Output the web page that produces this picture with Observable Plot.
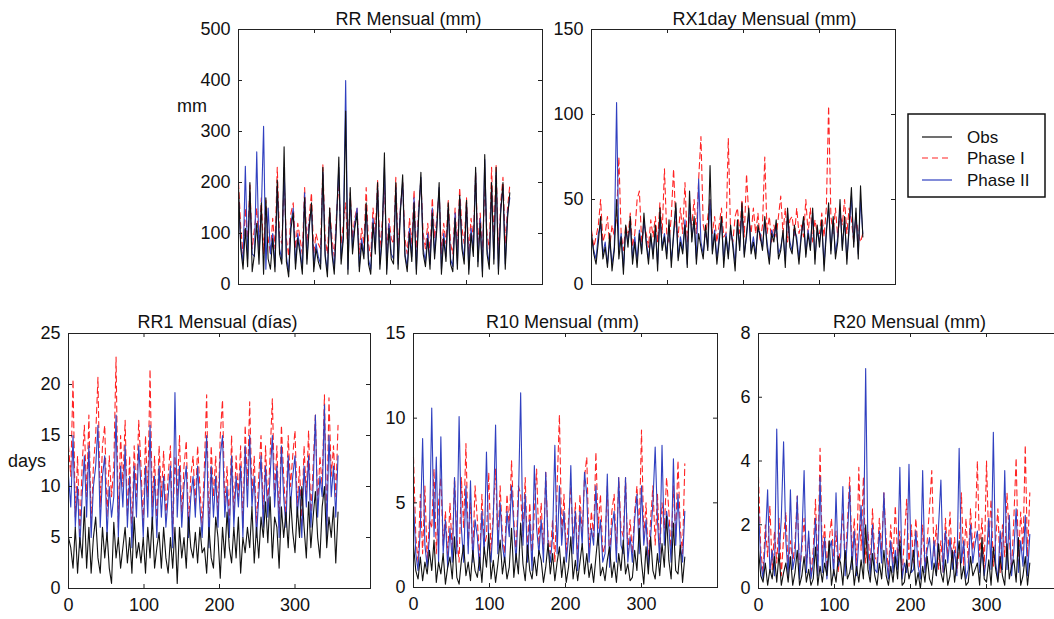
<!DOCTYPE html>
<html><head><meta charset="utf-8">
<script src="https://cdn.jsdelivr.net/npm/d3@7"></script>
<script src="https://cdn.jsdelivr.net/npm/@observablehq/plot@0.6"></script>
<style>
html,body{margin:0;padding:0;background:#fff;overflow:hidden;}
#page{position:relative;width:1054px;height:619px;overflow:hidden;font-family:"Liberation Sans",Arial,Helvetica,sans-serif;color:#111;}
.panel{position:absolute;}
.lab{position:absolute;font-size:18px;line-height:18px;white-space:nowrap;}
</style></head><body><div id="page"></div>
<script>
// month index of each sample (quarterly samples of the 360-month series)
const months = d3.range(0, 360, 3);
const seriesNames = ["Obs", "Phase I", "Phase II"];
const titles = ["RR Mensual (mm)", "RX1day Mensual (mm)", "RR1 Mensual (días)", "R10 Mensual (mm)", "R20 Mensual (mm)"];
const yLabels = ["mm", "days"];
const xTickMarks = [100, 200, 300];
const xTickLabels = [0, 100, 200, 300];
const rrTicks = [0, 100, 200, 300, 400, 500];
const rxTicks = [0, 50, 100, 150];
const rr1Ticks = [0, 5, 10, 15, 20, 25];
const r10Ticks = [0, 5, 10, 15];
const r20Ticks = [0, 2, 4, 6, 8];

// RR Mensual (mm)
const rrObs = [190,70,30,110, 35,200,25,60, 120,40,160,20, 170,50,30,90, 25,205,60,40, 270,45,15,110, 140,30,90,60, 20,170,40,110, 160,25,70,45, 30,230,55,15, 150,60,20,120, 250,40,90,340, 20,190,60,110, 140,25,80,50, 160,40,20,120, 60,200,30,90, 258,20,110,50, 40,200,30,140, 215,55,25,100, 45,160,20,130, 220,60,35,90, 30,140,50,110, 200,20,90,45, 160,40,25,130, 30,175,70,40, 165,20,100,55, 230,35,120,15, 255,60,30,200, 40,230,20,140, 200,30,130,180];
const rrPhase1 = [200,110,60,150, 80,195,70,110, 150,65,170,60, 165,90,60,130, 70,230,95,80, 200,90,55,140, 160,70,120,90, 60,190,80,130, 180,60,100,80, 70,235,90,60, 150,90,55,140, 200,80,120,160, 60,180,90,130, 150,60,110,80, 190,80,55,150, 100,205,70,120, 190,60,130,90, 80,210,70,150, 200,90,60,130, 80,185,60,150, 205,100,70,120, 60,170,90,130, 185,60,120,80, 165,80,60,150, 70,190,110,80, 170,60,130,90, 220,80,140,60, 190,100,70,230, 90,235,60,160, 210,80,150,195];
const rrPhase2 = [170,80,40,232, 50,180,60,55, 260,60,140,310, 30,150,60,100, 35,190,70,50, 230,55,25,120, 150,40,100,70, 30,180,50,120, 150,35,80,55, 40,220,60,25, 140,70,30,130, 230,50,100,400, 30,170,70,120, 150,35,90,60, 150,50,30,130, 70,190,40,100, 230,30,120,60, 50,190,40,150, 200,60,35,110, 55,170,30,140, 210,70,45,100, 40,150,60,120, 190,30,100,55, 150,50,35,140, 40,170,80,50, 160,30,110,65, 220,45,130,25, 245,70,40,190, 50,220,30,150, 190,40,140,170];

// RX1day Mensual (mm)
const rxObs = [30,18,12,25, 40,15,22,10, 30,8,20,50, 15,28,6,35, 22,40,12,25, 10,30,18,42, 24,12,30,15, 35,8,45,20, 28,15,38,10, 30,48,14,25, 18,35,10,55, 25,40,12,30, 22,15,35,20, 70,18,30,12, 25,40,10,28, 15,35,22,8, 38,20,48,16, 30,45,18,25, 15,35,28,20, 40,22,12,30, 25,38,15,20, 32,10,45,22, 18,35,25,12, 28,40,16,30, 20,45,12,35, 22,38,8,30, 48,18,40,15, 25,50,20,40, 12,35,57,22, 45,15,58,28];
const rxPhase1 = [32,22,28,35, 50,25,30,40, 22,35,28,40, 75,30,20,35, 28,42,22,30, 50,55,25,35, 30,22,38,28, 40,25,48,30, 68,30,25,40, 68,35,28,45, 30,60,25,40, 35,50,30,62, 87,35,28,40, 50,30,40,25, 35,45,28,30, 86,30,25,40, 45,30,50,28, 65,40,30,45, 30,42,25,35, 75,30,40,25, 35,28,40,52, 30,45,25,38, 40,28,45,30, 35,28,50,30, 45,25,38,30, 30,42,28,45, 105,40,30,45, 28,42,35,50, 30,45,38,25, 40,30,25,30];
const rxPhase2 = [28,20,15,30, 35,18,25,12, 25,12,22,107, 20,30,10,32, 25,35,15,28, 14,32,20,38, 26,15,28,18, 32,12,40,22, 30,18,35,14, 28,45,16,28, 20,38,12,48, 28,36,15,62, 25,18,32,22, 50,20,32,15, 28,38,14,30, 18,32,25,12, 35,22,45,18, 28,42,20,28, 18,32,30,22, 38,25,15,32, 28,35,18,22, 30,14,42,25, 20,32,28,15, 30,38,18,32, 22,42,15,32, 25,35,12,32, 45,20,38,18, 28,45,22,38, 15,32,52,25, 42,18,50,30];

// RR1 Mensual (días)
const rr1Obs = [5,4,2,6, 1.5,5,3,8, 2,6,1.5,5, 7,3,1.5,6, 3,5.5,2,0.5, 6.5,3,5,2, 4,6,2.5,5, 1.5,7,3,4.5, 2.5,5,1.5,6, 3,7,2,4, 5.5,2,6,3, 1.5,5,2,6, 0.5,6,3,5, 2,7,4,3, 5.5,2.5,6,3.5, 4,1.5,6,3, 2,7,5,1, 6,3,7.5,4, 2.5,6,3,7, 1.5,5,3.5,6, 4,8,2.5,6, 3,7,5,8.5, 4.5,9,3,7, 6,2,8,5, 7.5,4,9,5.5, 3.5,8,5,10, 6,3,8.5,4, 7,9.5,5,3, 8,10,4,7, 5,8,2.5,7.5];
const rr1Phase1 = [14,11,20.5,7, 13,5,12,16, 9,17,6,12, 15,20.7,8,14, 16,7,13,9, 12,22.7,6,15, 10,16.5,7,13, 5,14,9,16.5, 12,6,15,9, 21.5,8,13,6, 14,9,13.5,7, 11,14,5,13, 9,15,7,12, 14.5,6,11,13, 8,14,10,6, 12,19,5,14, 9,13,7,15, 18.5,8,12,6, 15,7,13,9, 14,6,16,10, 18.3,9,13,6, 11,15,7,14, 8,13,18.6,9, 14,6,16,11, 7,15,10,13, 15.5,8,12,6, 14,9,15.5,7, 12,17,8,13, 10,19,6,18.7, 11,14,9,16];
const rr1Phase2 = [11,8,15,6, 10,4,9,13, 7,14,5,10, 12,16,6,11, 13,5,10,7, 9,17,5,12, 8,14,6,11, 4,12,7,14, 10,5,12,7, 16,6,11,5, 12,7,11,6, 9,12,4,19.2, 7,12,6,10, 12,5,9,11, 7,12,8,5, 10,15,4,12, 7,11,6,13, 15,7,10,5, 13,6,11,8, 12,5,14,8, 15,8,11,5, 9,13,6,12, 7,11,15,8, 12,5,14,9, 6,13,8,11, 13,7,10,5, 12,8,13,6, 10,17,7,11, 9,18,5,15, 9,12,7,13];

// R10 Mensual (mm)
const r10Obs = [2.5,1,0.5,1.8, 0.4,1.5,0.8,2.2, 1,2.8,0.3,1.5, 0.8,2,0.2,1.2, 1.8,0.5,3,0.6, 0.2,1.6,2.5,0.7, 1.5,0.4,2.2,1, 0.6,1.8,0.3,2.4, 1.2,3.2,0.5,1.6, 0.3,1.4,2.8,0.8, 1.8,0.5,1.2,3.5, 0.6,2,0.8,3.8, 1.4,0.4,2.5,1, 0.5,1.8,0.7,2.2, 1.6,0.3,1.2,2.6, 0.8,2,0.4,1.5, 2.4,0.6,1.8,0.3, 1.2,3,0.5,1.6, 0.4,1.5,2.6,0.8, 2,0.6,1.4,0.3, 1.8,3.2,0.7,1.2, 0.4,1.6,2.4,0.6, 1.5,0.3,2,1, 2.8,0.8,1.4,0.4, 0.6,2.2,1,3.5, 1.5,0.2,2.4,0.8, 3,1,0.5,2, 0.7,2.6,1.2,4.2, 1.6,0.5,3.8,1, 0.8,2.5,0.3,1.8];
const r10Phase1 = [7.7,3,1.5,5.5, 2,6,1.5,4, 3.5,7,2,5, 6.5,2.5,4.5,1.8, 5,2,6.5,3, 1.5,6.5,3.5,8.5, 2.5,5,1.8,6, 4,1.5,5.5,2.5, 3,6.8,2,4.5, 7,2.5,6,3, 2,5.5,3.5,7.5, 4,2,6,5.5, 3,6.5,2,5, 1.5,4.5,7,2.5, 5,2,6.8,3, 2,4,1.5,6, 10.2,3,5.5,2, 4,6,2.5,5, 1.5,5.5,3,6.5, 7.7,2,4.5,3, 8,3.5,5.5,2, 2.5,6,1.5,4.5, 5.5,2,6.5,3.5, 3,6.5,2,4, 2,4.5,6,3, 9.3,3,5,1.5, 4,6,2.5,5.5, 2,5,3.5,6.5, 4.5,2,6,3, 7.5,3.5,2,7.3];
const r10Phase2 = [5,2,1,3.5, 8.8,2.5,1.2,3, 10.6,3,7.7,1.5, 8.9,2,4,1.2, 3.5,1.5,6.5,2, 10.1,3.5,1.5,6, 2,6.3,1.5,4, 3,1,4.5,2, 8,2.5,1.5,4, 9.6,2,5,2.5, 1.5,4.5,3,6, 3.5,1.5,5,11.5, 2.5,5.5,1.5,4, 1,7.2,3.5,2, 4,1.5,6.8,2.5, 1.5,3,8.4,2, 6,2.5,4.5,1.5, 3,7.2,2,4.5, 1,4.5,2.5,6.8, 5.5,1.5,3.5,2.5, 6,2.5,4,1.5, 2,6.7,1.2,3.5, 4.5,1.5,6.5,2.5, 2,6.5,1.5,3, 1.5,4,5.5,2, 6,2.5,4,1.2, 3,5,8.3,4, 1.5,8.4,2.5,4.5, 3.5,1.5,7.6,2.5, 5.5,2.5,1.5,4.5];

// R20 Mensual (mm)
const r20Obs = [1.2,0.4,0.2,0.8, 0.1,0.6,0.3,1, 0.2,1.1,0.1,0.5, 0.8,0.2,1,0.1, 0.5,1.2,0.1,0.4, 1,0.2,0.6,0.1, 0.3,1.3,0.1,0.7, 0.2,0.8,0.4,1.5, 0.1,0.6,0.2,1, 0.8,0.1,1.2,0.3, 0.5,1,0.1,0.7, 0.2,0.9,0.3,2, 0.6,0.2,1.1,0.4, 0.1,0.8,0.3,1.2, 0.4,0.1,0.7,0.2, 1,0.3,1.5,0.1, 0.2,0.9,0.3,0.6, 1.2,0.1,0.5,0, 0.7,0.2,1,0.3, 0.1,0.8,0.4,1.4, 0.5,0.2,0.9,0.1, 0.4,1.2,0.2,0.8, 1.5,0.3,0.7,0.1, 0.2,1,0.4,0.6, 0.8,0.1,1.6,0.3, 0.2,0.9,0.1,1.3, 0.6,0.2,1,0.4, 0.1,1.4,0.3,0.7, 0.9,0.2,1.6,0.1, 0.4,1,0.1,0.8];
const r20Phase1 = [3.5,1.2,0.5,2, 1,2.6,0.6,1.8, 0.8,2.2,0.4,1.6, 2.4,0.6,1.5,0.8, 1.4,2.9,0.5,1.2, 2.2,0.7,1.6,0.4, 1.2,2.8,0.5,4.4, 1,2,0.6,1.5, 2.2,0.8,1.8,0.5, 1.5,2.4,0.7,2, 3.5,1,2.2,0.6, 3.8,1.2,3.5,0.8, 1.8,0.6,2.5,1, 0.8,2.2,1.2,3, 1.5,0.5,2,0.8, 2.6,1,1.8,0.4, 1.6,2.8,0.7,2, 0.8,2.2,1.2,0.5, 2,0.6,1.5,2.5, 3.7,1,2,0.6, 1.5,0.5,2.2,1, 2.4,0.8,1.6,0.5, 1.2,3,0.7,2.2, 0.8,2.5,1.2,1.8, 4,1,2.2,0.6, 4,1.4,2.8,0.7, 1.5,2.5,0.5,2, 1,3,1.6,0.6, 2.2,4.1,0.8,2.4, 1.2,4.5,1,3];
const r20Phase2 = [2.5,0.8,0.3,1.5, 3.1,0.5,1.2,0.4, 5,1,2.2,4.6, 1.5,0.4,3.1,0.6, 1,2.9,0.3,1.5, 3.7,0.5,1.8,0.3, 0.8,2.2,0.4,3.5, 0.5,1.6,0.3,1.2, 1.5,0.4,3,0.7, 1,3.2,0.4,1.6, 3.2,0.6,1.8,0.4, 1.5,2.6,0.8,6.9, 1.2,0.4,2,0.6, 0.5,1.8,0.8,3, 1,0.3,1.5,0.5, 1.2,0.6,3.8,0.3, 0.8,0.5,3.9,0.5, 0.6,1.8,0.7,0.3, 3.7,0.5,1.2,1.6, 0.6,1.5,0.4,2, 3.4,0.5,1.8,0.8, 1.6,0.6,1.2,0.4, 4.4,0.8,1.5,0.3, 0.6,2,0.8,1.4, 1.8,0.5,1.2,0.4, 1,2.2,0.6,4.9, 0.8,0.3,1.8,0.6, 3.7,0.6,2.3,0.4, 1.2,2.5,0.5,1.5, 0.7,2.3,0.4,1.7];

const colors = {"Obs": "#111111", "Phase I": "#ff2424", "Phase II": "#3040c0"};
const dashes = {"Obs": null, "Phase I": "6,4", "Phase II": null};
const fontFamily = '"Liberation Sans", Arial, Helvetica, sans-serif';
const page = document.getElementById("page");

function tidy(series) {
  const rows = [];
  series.forEach((vals, s) => vals.forEach((v, i) => rows.push({month: months[i], value: v, series: seriesNames[s]})));
  return rows;
}

function panel({series, yDomain, yTicks, title, titleDx, titleDy, showX, frameW, frameH, left, top}) {
  const mL = 70, mR = 12, mT = 30, mB = 34;
  const rows = tidy(series);
  const drawOrder = ["Phase I", "Phase II", "Obs"];
  const marks = drawOrder.map(name => Plot.line(rows.filter(d => d.series === name), {
    x: "month", y: "value", stroke: colors[name], strokeWidth: 1.1,
    strokeDasharray: dashes[name]
  }));
  marks.push(
    Plot.frame({stroke: "#222"}),
    Plot.ruleX(xTickMarks, {stroke: "#222", insetTop: frameH - 4}),
    Plot.ruleX(xTickMarks, {stroke: "#222", insetBottom: frameH - 4}),
    Plot.ruleY(yTicks, {stroke: "#222", insetRight: frameW - 4}),
    Plot.ruleY(yTicks, {stroke: "#222", insetLeft: frameW - 4}),
    Plot.axisY({ticks: yTicks, label: null, tickSize: 0, tickPadding: 8, tickFormat: d => String(d), fontSize: 18, fill: "#111"}),
    Plot.text([title], {frameAnchor: "top", dx: titleDx, dy: titleDy, lineAnchor: "bottom", fontSize: 18, fill: "#111"})
  );
  if (showX) marks.push(Plot.axisX({ticks: xTickLabels, label: null, tickSize: 0, tickPadding: 10, tickFormat: d => String(d), fontSize: 18, fill: "#111"}));
  const svg = Plot.plot({
    width: mL + frameW + mR, height: mT + frameH + mB,
    marginLeft: mL, marginRight: mR, marginTop: mT, marginBottom: mB,
    x: {domain: [0, 400], label: null, ...(showX ? {} : {axis: null})},
    y: {domain: yDomain, label: null},
    style: {background: "transparent", fontFamily, fontSize: "18px", overflow: "visible", color: "#111"},
    marks
  });
  svg.classList.add("panel");
  svg.style.left = left + "px";
  svg.style.top = top + "px";
  svg.style.maxWidth = "none";
  page.appendChild(svg);
}

panel({series: [rrObs, rrPhase1, rrPhase2], yDomain: [0, 500], yTicks: rrTicks, title: titles[0], titleDx: 18, titleDy: -5, showX: false, frameW: 304, frameH: 255, left: 168, top: -1});
panel({series: [rxObs, rxPhase1, rxPhase2], yDomain: [0, 150], yTicks: rxTicks, title: titles[1], titleDx: 21, titleDy: -5, showX: false, frameW: 304, frameH: 255, left: 521, top: -1});
panel({series: [rr1Obs, rr1Phase1, rr1Phase2], yDomain: [0, 25], yTicks: rr1Ticks, title: titles[2], titleDx: -2, titleDy: -6, showX: true, frameW: 302, frameH: 255, left: -2, top: 303});
panel({series: [r10Obs, r10Phase1, r10Phase2], yDomain: [0, 15], yTicks: r10Ticks, title: titles[3], titleDx: -3, titleDy: -6, showX: true, frameW: 304, frameH: 254, left: 343, top: 303});
panel({series: [r20Obs, r20Phase1, r20Phase2], yDomain: [0, 8], yTicks: r20Ticks, title: titles[4], titleDx: -1, titleDy: -6, showX: true, frameW: 304, frameH: 255, left: 688, top: 303});

// axis unit labels
[[yLabels[0], 177, 97], [yLabels[1], 8, 452]].forEach(([t, x, y]) => {
  const d = document.createElement("div");
  d.className = "lab"; d.textContent = t;
  d.style.left = x + "px"; d.style.top = y + "px";
  page.appendChild(d);
});

// legend
const leg = d3.select(page).append("svg")
  .attr("width", 140).attr("height", 86)
  .style("position", "absolute").style("left", "907px").style("top", "113px")
  .style("font-family", fontFamily);
leg.append("rect").attr("x", 1).attr("y", 1).attr("width", 137).attr("height", 83)
  .attr("fill", "white").attr("stroke", "#111").attr("stroke-width", 1.5);
const legY = [24, 45, 67];
seriesNames.forEach((name, i) => {
  leg.append("line").attr("x1", 15).attr("x2", 45).attr("y1", legY[i]).attr("y2", legY[i])
    .attr("stroke", colors[name]).attr("stroke-width", 1.2).attr("stroke-dasharray", dashes[name]);
  leg.append("text").attr("x", 60).attr("y", legY[i] + 6).attr("font-size", 17).attr("fill", "#111").text(name);
});
</script>
</body></html>
